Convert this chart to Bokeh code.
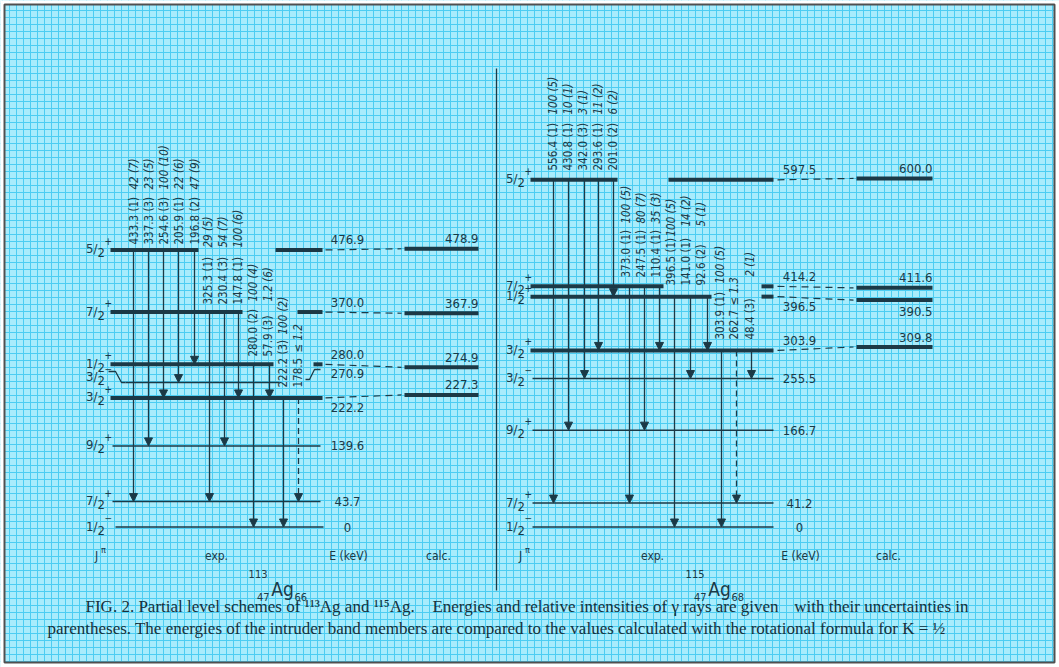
import numpy as np
from bokeh.plotting import figure
from bokeh.models import Range1d, Arrow, NormalHead, FixedTicker, Grid
from bokeh.core.properties import value
from bokeh.embed import file_html
from bokeh.resources import INLINE

# ---------------------------------------------------------------- data
# 113Ag (left panel)
ag113_E = [476.9, 370.0, 280.0, 270.9, 222.2, 139.6, 43.7, 0.0]
ag113_J = ["5/", "7/", "1/", "3/", "3/", "9/", "7/", "1/"]
ag113_par = ["+", "+", "+", "\u2212", "+", "+", "+", "\u2212"]
ag113_band = [1, 1, 1, 0, 1, 0, 0, 0]
ag113_Elab = ["476.9", "370.0", "280.0", "270.9", "222.2", "139.6", "43.7", "0"]
ag113_calc = [478.9, 367.9, 274.9, 227.3]
ag113_calc_lab = ["478.9", "367.9", "274.9", "227.3"]
ag113_calc_exp = [476.9, 370.0, 280.0, 222.2]
ag113_g_from = [476.9, 476.9, 476.9, 476.9, 476.9, 370.0, 370.0, 370.0, 280.0, 280.0, 222.2, 222.2]
ag113_g_to = [43.7, 139.6, 222.2, 270.9, 280.0, 43.7, 139.6, 222.2, 0.0, 222.2, 0.0, 43.7]
ag113_g_E = ["433.3 (1)", "337.3 (3)", "254.6 (3)", "205.9 (1)", "196.8 (2)",
             "325.3 (1)", "230.4 (3)", "147.8 (1)", "280.0 (2)", "57.9 (3)",
             "222.2 (3)", "178.5"]
ag113_g_I = ["42 (7)", "23 (5)", "100 (10)", "22 (6)", "47 (9)",
             "29 (5)", "54 (7)", "100 (6)", "100 (4)", "1.2 (6)",
             "100 (2)", "\u2264 1.2"]
ag113_g_tent = [0, 0, 0, 0, 0, 0, 0, 0, 0, 0, 0, 1]

# 115Ag (right panel)
ag115_E = [597.5, 414.2, 396.5, 303.9, 255.5, 166.7, 41.2, 0.0]
ag115_J = ["5/", "7/", "1/", "3/", "3/", "9/", "7/", "1/"]
ag115_par = ["+", "+", "+", "+", "\u2212", "+", "+", "\u2212"]
ag115_band = [1, 1, 1, 1, 0, 0, 0, 0]
ag115_Elab = ["597.5", "414.2", "396.5", "303.9", "255.5", "166.7", "41.2", "0"]
ag115_calc = [600.0, 411.6, 390.5, 309.8]
ag115_calc_lab = ["600.0", "411.6", "390.5", "309.8"]
ag115_calc_exp = [597.5, 414.2, 396.5, 303.9]
ag115_g_from = [597.5] * 5 + [414.2] * 3 + [396.5] * 3 + [303.9] * 3
ag115_g_to = [41.2, 166.7, 255.5, 303.9, 396.5, 41.2, 166.7, 303.9,
              0.0, 255.5, 303.9, 0.0, 41.2, 255.5]
ag115_g_E = ["556.4 (1)", "430.8 (1)", "342.0 (3)", "293.6 (1)", "201.0 (2)",
             "373.0 (1)", "247.5 (1)", "110.4 (1)", "396.5 (1)", "141.0 (1)",
             "92.6 (2)", "303.9 (1)", "262.7", "48.4 (3)"]
ag115_g_I = ["100 (5)", "10 (1)", "3 (1)", "11 (2)", "6 (2)",
             "100 (5)", "80 (7)", "35 (3)", "100 (5)", "14 (2)", "5 (1)",
             "100 (5)", "\u2264 1.3", "2 (1)"]
ag115_g_tent = [0] * 12 + [1, 0]

caption_1 = ["FIG. 2.  Partial level schemes of \u00b9\u00b9\u00b3Ag and \u00b9\u00b9\u2075Ag.",
             "Energies and relative intensities of \u03b3 rays are given",
             "with their uncertainties in"]
caption_2 = ("parentheses.  The energies of the intruder band members are compared to the "
             "values calculated with the rotational formula for K = \u00bd")

# ---------------------------------------------------------------- layout / style
W, H = 1059, 667
KPX = 0.581          # pixels per keV
Y0 = 526.5           # pixel row of E = 0


def ky(ypx):
    """pixel row -> data coordinate (keV axis)"""
    return (Y0 - ypx) / KPX


def py(E):
    return Y0 - KPX * E


INK = "#1b3946"
BG = "#a8ecfc"
GRIDC = "#4ccdf2"
FONT = "DejaVu Sans Condensed"
SERIF = "Liberation Serif"

p = figure(width=W, height=H, x_range=Range1d(0, W), y_range=Range1d(ky(H), ky(0)),
           x_axis_type=None, y_axis_type=None, output_backend="svg",
           toolbar_location=None, min_border=0)
p.background_fill_color = BG
p.border_fill_color = "white"
p.outline_line_color = None
p.add_layout(Grid(dimension=0, ticker=FixedTicker(ticks=list(np.arange(2, W, 7.0))),
                  grid_line_color=GRIDC, grid_line_width=1))
p.add_layout(Grid(dimension=1, ticker=FixedTicker(ticks=[ky(v) for v in np.arange(3, H, 7.0)]),
                  grid_line_color=GRIDC, grid_line_width=1))

# white margin and frame
p.quad(left=[0, 1054, 0, 0], right=[4, W, W, W], top=[ky(0), ky(0), ky(0), ky(662)],
       bottom=[ky(H), ky(H), ky(4), ky(H)], fill_color="white", line_color=None)
p.quad(left=[4], right=[1054], top=[ky(4)], bottom=[ky(662)], fill_color=None,
       line_color="#505050", line_width=2)


def text(x, y, s, size=12.5, align="center", baseline="middle", angle=0.0,
         style="normal", font=FONT, color=INK):
    p.text(x=[x], y=[y], text=[s], text_font=value(font), text_font_size=f"{size}px",
           text_align=align, text_baseline=baseline, angle=angle,
           text_font_style=style, text_color=color)


def panel(E, J, par, band, Elab, calc, calc_lab, calc_exp, gfrom, gto, gE, gI, gtent, L):
    shift = L["shift"]

    def dy(e):
        return e - shift.get(e, 0.0) / KPX

    # levels
    for i, e in enumerate(E):
        for (x0, x1) in L["seg"][i]:
            p.line([x0, x1], [dy(e), dy(e)], line_color=INK,
                   line_width=4 if band[i] else 1.5)
        # spin-parity
        yp = py(dy(e))
        text(L["jx"], ky(yp + L["jdy"][i] - 1), J[i], size=13, align="right")
        text(L["jx"], ky(yp + L["jdy"][i] + 3), "2", size=13, align="left")
        text(L["jx"] + 7, ky(yp + L["jdy"][i] - 9), par[i], size=10, align="left")
        # energy label
        off = {"a": -10, "b": 10, "m": 0}[L["epos"][i]] + L.get("edy", {}).get(i, 0)
        text(L["ex"], ky(yp + off), Elab[i], size=13)

    # calculated levels and dashed connections
    cx0, cx1 = L["calc_x"]
    for k, c in enumerate(calc):
        p.line([cx0, cx1], [c, c], line_color=INK, line_width=4)
        off = {"a": -10, "b": 11}[L["cpos"][k]]
        text(cx1, ky(py(c) + off), calc_lab[k], size=13, align="right")
        p.line([L["dash_x0"], cx0 - 3], [calc_exp[k], c], line_color=INK,
               line_width=1.2, line_dash="7 5")

    # transitions
    for j in range(len(gE)):
        x = L["gx"][j]
        arr = Arrow(x_start=x, y_start=dy(gfrom[j]), x_end=x, y_end=dy(gto[j]),
                    line_color=INK, line_width=1.3,
                    line_dash="6 4" if gtent[j] else "solid",
                    end=NormalHead(size=8, fill_color=INK, line_color=INK, line_width=1))
        p.add_layout(arr)
        tx = L["tx"][j]
        text(tx, ky(L["e0"][j]), gE[j], size=11.5, align="left", angle=np.pi / 2)
        text(tx, ky(L["i0"][j]), gI[j], size=11.5, align="left", angle=np.pi / 2,
             style="italic")

    # bottom captions
    yb = ky(555)
    text(L["bx"][0], yb, "J", size=12, align="center")
    text(L["bx"][0] + 7, ky(549), "\u03c0", size=9, align="center")
    text(L["bx"][1], yb, "exp.", size=12)
    text(L["bx"][2], yb, "E (keV)", size=12)
    text(L["bx"][3], yb, "calc.", size=12)
    nx = L["nx"]
    text(nx, ky(588), "Ag", size=19)
    text(nx - 15, ky(573), L["A"], size=11, align="right")
    text(nx - 13, ky(596), "47", size=11, align="right")
    text(nx + 12, ky(596), L["N"], size=11, align="left")


left = dict(
    shift={270.9: 13.0},
    seg=[[(110, 198), (275, 322)], [(110, 242), (297, 322)], [(110, 273), (313, 322)],
         [(125, 279)], [(110, 322)], [(112, 320)], [(112, 320)], [(115, 323)]],
    jx=97, jdy=[0, 0, 0, -5, 0, 0, 0, 0],
    ex=347, epos=["a", "a", "a", "m", "b", "m", "m", "m"], edy={3: -9},
    calc_x=(404, 478), cpos=["a", "a", "a", "a"], dash_x0=325,
    gx=[133, 148, 163, 178, 194, 209, 224, 238, 253, 269, 283, 298],
    tx=[133, 148, 163, 178, 194, 207, 222, 237, 252, 267, 282, 297],
    e0=[244] * 5 + [304] * 3 + [356] * 2 + [387, 387],
    i0=[189] * 5 + [247] * 3 + [301] * 2 + [334, 352],
    bx=[96, 216, 348, 438], nx=282, A="113", N="66",
)
right = dict(
    shift={},
    seg=[[(530, 617), (668, 773)], [(530, 663), (761, 773)], [(530, 711), (761, 773)],
         [(530, 773)], [(532, 773)], [(532, 773)], [(532, 773)], [(532, 773)]],
    jx=517, jdy=[0, 0, 0, 0, 0, 0, 0, 0],
    ex=799, epos=["a", "a", "b", "a", "m", "m", "m", "m"],
    calc_x=(856, 932), cpos=["a", "a", "b", "a"], dash_x0=777,
    gx=[553, 568, 584, 598, 613, 629, 644, 659, 674, 690, 707, 721, 736, 751],
    tx=[552, 567, 582, 597, 612, 625, 640, 655, 670, 685, 700, 719, 733, 749],
    e0=[170] * 5 + [277] * 3 + [285] * 3 + [339] * 3,
    i0=[114] * 5 + [223] * 3 + [236, 226, 226] + [283, 305, 276],
    bx=[520, 652, 800, 888], nx=719, A="115", N="68",
)

panel(ag113_E, ag113_J, ag113_par, ag113_band, ag113_Elab, ag113_calc, ag113_calc_lab,
      ag113_calc_exp, ag113_g_from, ag113_g_to, ag113_g_E, ag113_g_I, ag113_g_tent, left)
panel(ag115_E, ag115_J, ag115_par, ag115_band, ag115_Elab, ag115_calc, ag115_calc_lab,
      ag115_calc_exp, ag115_g_from, ag115_g_to, ag115_g_E, ag115_g_I, ag115_g_tent, right)

# brackets linking the displaced 3/2- level of 113Ag
p.line([108, 115, 121, 125], [ky(371), ky(371), ky(382), ky(382)], line_color=INK, line_width=1.3)
p.line([305, 309, 314, 320], [ky(379), ky(379), ky(369), ky(369)], line_color=INK, line_width=1.3)

# panel separator
p.line([496, 496], [ky(68), ky(590)], line_color=INK, line_width=1.3)

# figure caption (first line justified in three pieces)
CAPC = "#17303a"
text(85, ky(606), caption_1[0], size=17, align="left", font=SERIF, color=CAPC)
text(605, ky(606), caption_1[1], size=17, align="center", font=SERIF, color=CAPC)
text(968, ky(606), caption_1[2], size=17, align="right", font=SERIF, color=CAPC)
text(47, ky(628), caption_2, size=17, align="left", font=SERIF, color=CAPC)

open("out.html", "w").write(file_html(p, INLINE))
